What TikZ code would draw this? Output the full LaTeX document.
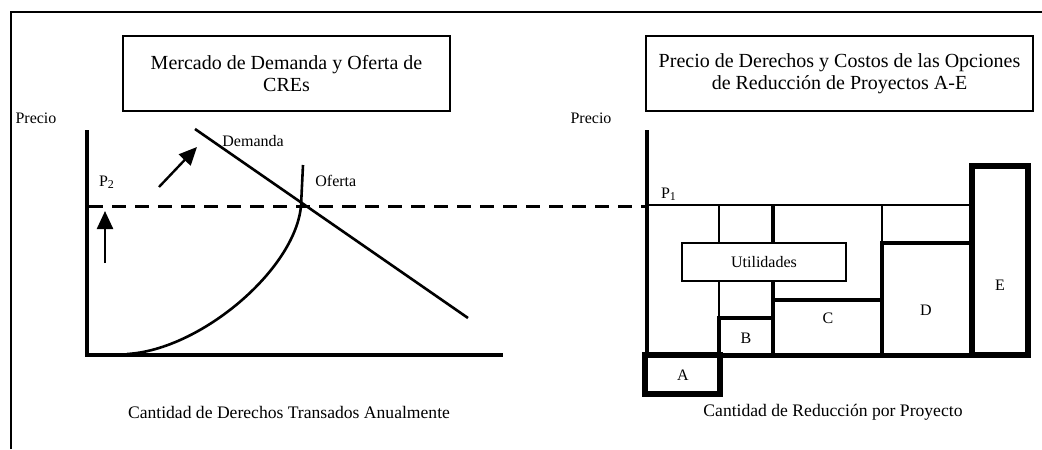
\documentclass[tikz,border=0pt]{standalone}
\usepackage{fontspec}
\setmainfont{Liberation Serif}
\usetikzlibrary{arrows.meta}

\begin{document}
\begin{tikzpicture}[x=0.5pt,y=-0.5pt,
	titulo/.style={draw,line width=1pt,align=center,inner sep=0,font=\fontsize{10}{11}\selectfont},
	rotulo/.style={inner sep=0,font=\fontsize{8}{9}\selectfont},
	leyenda/.style={inner sep=0,font=\fontsize{8.8}{10}\selectfont},
	eje/.style={line width=2pt},
	flecha/.style={line width=1.2pt,-{Triangle[length=9pt,width=8pt]}},
	caja/.style={line width=1.8pt,fill=white}]
	\useasboundingbox (0,0) rectangle (1042,449);
	\draw[line width=0.75pt] (11,449) -- (11,12) -- (1042,12);
	\node[titulo,minimum width=327*0.5pt,minimum height=75*0.5pt] (mercado) at (286.5,73.5) {Mercado de Demanda y Oferta de\\CREs};
	\node[titulo,minimum width=387*0.5pt,minimum height=75*0.5pt] (costos) at (839.5,73.5) {Precio de Derechos y Costos de las Opciones\\de Reducción de Proyectos A-E};
	\node[rotulo] (precioL) at (36,118) {Precio};
	\node[rotulo] (precioR) at (591,118) {Precio};
	\coordinate (oL) at (87,355);
	\coordinate (oR) at (647,355);
	\draw[eje] (87,130) -- (oL) -- (503,355);
	\draw[line width=1.5pt,dash pattern=on 7pt off 4.5pt] (89,206) -- (645,206);
	\draw[line width=1.3pt] (195,129) -- (468,318);
	\draw[line width=1.3pt] (127,354) .. controls (200,350) and (295,270) .. (301,206) -- (303,165);
	\node[rotulo,anchor=west] (demanda) at (222,141) {Demanda};
	\node[rotulo,anchor=west] (oferta) at (315,181) {Oferta};
	\node[rotulo] (p2) at (107,182) {P\textsubscript{2}};
	\coordinate (f1a) at (105,263);
	\coordinate (f1b) at (105,211);
	\coordinate (f2a) at (159,187);
	\coordinate (f2b) at (197,147);
	\draw[flecha] (f1a) -- (f1b);
	\draw[flecha] (f2a) -- (f2b);
	\node[leyenda] (ejeL) at (289,412) {Cantidad de Derechos Transados Anualmente};
	% proyectos
	\draw[line width=1pt] (647,205) -- (972,205);
	\draw[line width=1pt] (719,205) -- (719,320);
	\draw[line width=1.6pt] (773,205) -- (773,300);
	\draw[line width=1pt] (882,205) -- (882,243);
	\node[rotulo] (p1) at (669,194) {P\textsubscript{1}};
	\draw[caja] (719,318) rectangle (773,355);
	\draw[caja] (773,300) rectangle (882,355);
	\draw[caja] (882,243) rectangle (972,355);
	\draw[line width=3pt,fill=white] (972,166) rectangle (1028,355);
	\draw[line width=3pt,fill=white] (645,355) rectangle (720,394);
	\draw[line width=2.5pt] (oR) -- (1030,355);
	\draw[eje] (647,130) -- (oR);
	\node[caja,draw,line width=1.3pt,rotulo,minimum width=164*0.5pt,minimum height=38*0.5pt] (util) at (764,262) {Utilidades};
	\node[rotulo] (A) at (683,375) {A};
	\node[rotulo] (B) at (746,338) {B};
	\node[rotulo] (C) at (828,318) {C};
	\node[rotulo] (D) at (926,310) {D};
	\node[rotulo] (E) at (1000,285) {E};
	\node[leyenda] (ejeR) at (833,412) {Cantidad de Reducción por Proyecto};
\end{tikzpicture}
\end{document}
